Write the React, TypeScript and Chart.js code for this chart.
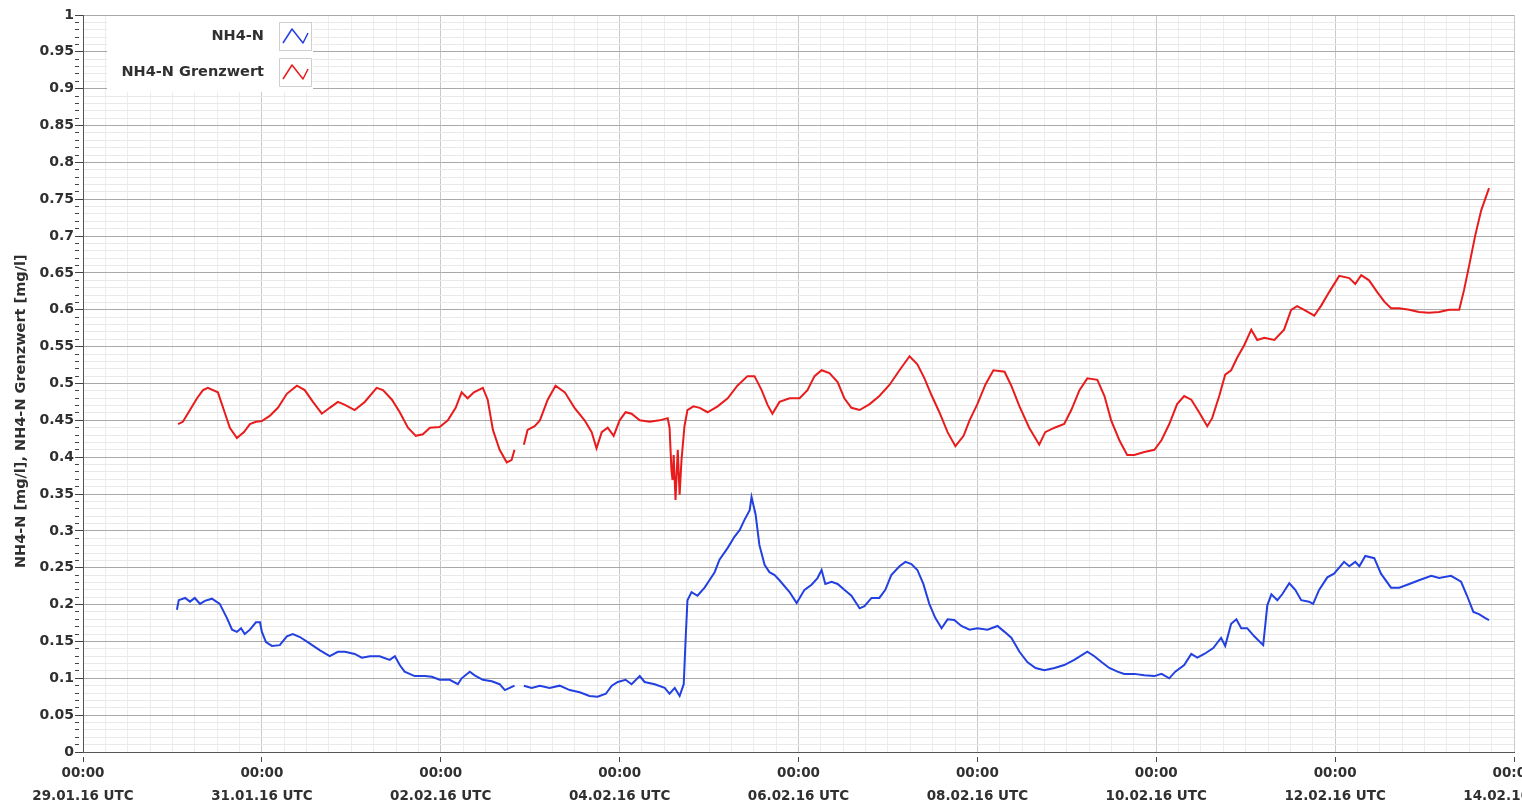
import React, { useEffect, useRef } from "react";
import { Chart, registerables } from "chart.js";

Chart.register(...registerables);

// ---- data (x = hours since 29.01.16 00:00 UTC, y = mg/l) ----
const timeLabel = "00:00";
const dateLabels = [
  "29.01.16 UTC", "31.01.16 UTC", "02.02.16 UTC", "04.02.16 UTC", "06.02.16 UTC",
  "08.02.16 UTC", "10.02.16 UTC", "12.02.16 UTC", "14.02.16 UTC",
];
const seriesNames = ["NH4-N", "NH4-N Grenzwert"];
const seriesColors = ["#2340e0", "#e81c1c"];
const yTitle = "NH4-N [mg/l], NH4-N Grenzwert [mg/l]";

const nh4Hours = [
  25.2, 25.7, 27.4, 28.7, 30.0, 31.4, 32.7, 34.6, 36.7, 38.6, 40.0, 41.3, 42.4, 43.4, 44.8, 46.4, 47.5, 48.0,
  49.1, 50.7, 52.8, 54.7, 56.3, 58.2, 60.3, 63.6, 66.2, 68.4, 70.3, 72.9, 74.8, 77.0, 79.6, 82.3, 83.7, 85.0,
  86.3, 89.0, 91.7, 93.6, 95.7, 98.4, 100.6, 101.6, 103.8, 105.1, 107.3, 109.7, 111.8, 113.2, 114.5, 115.8,
  116.5, 118.3, 120.4, 122.6, 125.2, 127.9, 130.6, 133.3, 135.9, 138.1, 140.3, 141.9, 143.5, 145.6, 147.2,
  149.4, 150.7, 153.4, 156.1, 157.4, 158.8, 160.1, 161.2, 161.7, 162.2, 163.3, 164.9, 166.8, 168.1, 169.5,
  170.8, 173.0, 174.8, 176.2, 177.5, 178.9, 179.4, 180.5, 181.5, 182.9, 184.2, 185.6, 186.9, 189.6, 191.5,
  193.6, 195.5, 197.1, 198.2, 199.2, 200.9, 202.5, 204.3, 206.2, 208.4, 209.7, 211.6, 213.7, 215.3, 216.9,
  219.1, 220.7, 222.3, 223.9, 225.5, 227.1, 228.7, 230.4, 232.0, 233.8, 235.7, 237.9, 240.0, 242.7, 245.4,
  247.3, 249.1, 251.3, 253.4, 255.6, 258.0, 260.7, 263.3, 266.0, 269.5, 271.4, 273.3, 275.4, 277.6, 279.4,
  282.1, 284.8, 287.5, 289.4, 291.5, 293.1, 295.5, 297.4, 299.0, 300.9, 303.3, 305.4, 306.5, 308.1, 309.5,
  310.8, 312.4, 314.3, 316.7, 317.8, 318.9, 320.5, 321.8, 323.7, 325.3, 326.9, 329.0, 330.1, 331.7, 333.9,
  335.7, 338.4, 339.8, 341.4, 342.5, 344.1, 346.5, 348.3, 351.0, 353.2, 355.9, 358.5, 361.8, 363.9, 367.1,
  369.8, 371.4, 373.1, 374.6, 376.2, 377.3,
];
const nh4Values = [
  0.193, 0.206, 0.209, 0.204, 0.209, 0.201, 0.205, 0.208, 0.201, 0.182, 0.166, 0.163, 0.168, 0.160, 0.166, 0.176, 0.176, 0.163,
  0.149, 0.144, 0.145, 0.157, 0.160, 0.156, 0.149, 0.138, 0.130, 0.136, 0.136, 0.133, 0.128, 0.130, 0.130, 0.125, 0.130, 0.118,
  0.109, 0.103, 0.103, 0.102, 0.098, 0.098, 0.092, 0.100, 0.109, 0.104, 0.098, 0.096, 0.092, 0.084, 0.087, 0.090,
  null, 0.090, 0.087, 0.090, 0.087, 0.090, 0.084, 0.081, 0.076, 0.075, 0.079, 0.090, 0.095, 0.098, 0.092,
  0.103, 0.095, 0.092, 0.087, 0.079, 0.087, 0.076, 0.092, 0.152, 0.206, 0.217, 0.212, 0.223, 0.233, 0.244,
  0.261, 0.277, 0.292, 0.301, 0.315, 0.328, 0.346, 0.322, 0.281, 0.254, 0.244, 0.240, 0.233, 0.217, 0.202,
  0.220, 0.227, 0.236, 0.247, 0.228, 0.231, 0.228, 0.220, 0.212, 0.195, 0.198, 0.209, 0.209, 0.220, 0.240,
  0.252, 0.258, 0.255, 0.247, 0.228, 0.201, 0.182, 0.168, 0.180, 0.179, 0.171, 0.166, 0.168, 0.166, 0.171,
  0.163, 0.155, 0.136, 0.122, 0.114, 0.111, 0.114, 0.118, 0.125, 0.136, 0.130, 0.122, 0.114, 0.109, 0.106,
  0.106, 0.104, 0.103, 0.106, 0.100, 0.109, 0.118, 0.133, 0.128, 0.133, 0.141, 0.155, 0.144, 0.174, 0.180,
  0.168, 0.168, 0.157, 0.145, 0.199, 0.214, 0.206, 0.214, 0.229, 0.220, 0.206, 0.204, 0.201, 0.220, 0.237,
  0.242, 0.258, 0.252, 0.258, 0.252, 0.266, 0.263, 0.242, 0.223, 0.223, 0.228, 0.233, 0.239, 0.236, 0.239,
  0.231, 0.212, 0.190, 0.187, 0.182, 0.179,
];

const limitHours = [
  25.5, 26.8, 28.7, 30.6, 32.2, 33.5, 36.2, 37.8, 39.4, 41.3, 43.2, 44.8, 46.4, 48.0, 50.1, 52.3, 54.7, 57.4,
  59.5, 61.7, 64.1, 66.2, 68.4, 70.3, 72.9, 75.6, 78.8, 80.5, 82.9, 85.0, 87.2, 89.3, 91.2, 93.1, 95.7, 97.9,
  100.0, 101.6, 103.2, 104.9, 107.3, 108.6, 110.0, 111.8, 113.7, 115.0, 115.8, 116.5, 118.3, 119.3, 121.2,
  122.6, 124.7, 126.8, 129.3, 131.9, 134.6, 136.5, 137.8, 139.2, 140.8, 142.4, 144.0, 145.6, 147.2, 149.4,
  152.1, 154.7, 156.9, 157.4, 157.9, 158.2, 158.5, 159.0, 159.6, 160.1, 160.6, 161.4, 162.2, 163.8, 165.5,
  167.6, 170.3, 173.0, 175.6, 178.3, 180.2, 182.1, 183.7, 185.0, 186.9, 189.6, 192.3, 194.4, 196.3, 198.2,
  200.3, 202.5, 204.3, 206.2, 208.4, 211.1, 213.7, 216.4, 219.1, 221.8, 223.9, 225.8, 227.7, 229.8, 232.0,
  234.1, 236.3, 237.9, 240.0, 242.2, 244.3, 247.3, 249.1, 251.3, 253.9, 256.6, 258.2, 260.7, 263.3, 265.2,
  267.4, 269.5, 272.2, 274.1, 275.9, 278.1, 280.2, 282.1, 284.8, 287.5, 289.4, 291.5, 293.6, 295.5, 297.4,
  299.5, 301.7, 303.0, 304.9, 306.5, 308.1, 309.7, 311.6, 313.5, 315.1, 317.0, 319.7, 322.3, 324.2, 325.8,
  327.7, 330.4, 332.3, 334.4, 337.1, 339.8, 341.4, 343.0, 345.1, 347.3, 349.2, 351.0, 353.2, 355.9, 358.5,
  361.2, 363.9, 366.6, 369.3, 370.6, 372.0, 373.6, 375.2, 377.3,
];
const limitValues = [
  0.445, 0.448, 0.464, 0.480, 0.491, 0.494, 0.488, 0.464, 0.440, 0.426, 0.434, 0.445, 0.448, 0.449, 0.456, 0.467, 0.486, 0.497,
  0.491, 0.475, 0.459, 0.467, 0.475, 0.471, 0.464, 0.475, 0.494, 0.491, 0.478, 0.461, 0.440, 0.429, 0.431, 0.440, 0.441, 0.450,
  0.467, 0.488, 0.480, 0.488, 0.494, 0.478, 0.437, 0.410, 0.393, 0.396, 0.410, null, 0.417, 0.437, 0.442,
  0.450, 0.478, 0.497, 0.488, 0.467, 0.450, 0.434, 0.412, 0.434, 0.440, 0.429, 0.450, 0.461, 0.459, 0.450,
  0.448, 0.450, 0.453, 0.440, 0.383, 0.369, 0.403, 0.342, 0.410, 0.349, 0.396, 0.442, 0.464, 0.469, 0.467,
  0.461, 0.469, 0.480, 0.497, 0.510, 0.510, 0.491, 0.471, 0.459, 0.475, 0.480, 0.480, 0.491, 0.510, 0.518,
  0.514, 0.502, 0.480, 0.467, 0.464, 0.472, 0.483, 0.498, 0.518, 0.537, 0.526, 0.507, 0.484, 0.461, 0.434,
  0.415, 0.429, 0.450, 0.472, 0.499, 0.518, 0.516, 0.497, 0.469, 0.440, 0.417, 0.434, 0.440, 0.445, 0.464,
  0.491, 0.507, 0.505, 0.483, 0.450, 0.423, 0.403, 0.403, 0.407, 0.410, 0.423, 0.445, 0.472, 0.483, 0.478,
  0.461, 0.442, 0.453, 0.483, 0.512, 0.518, 0.535, 0.552, 0.573, 0.559, 0.562, 0.559, 0.573, 0.600, 0.605,
  0.600, 0.592, 0.606, 0.624, 0.646, 0.643, 0.635, 0.647, 0.640, 0.624, 0.611, 0.602, 0.602, 0.600, 0.597,
  0.596, 0.597, 0.600, 0.600, 0.627, 0.661, 0.701, 0.735, 0.765,
];

const FONT = '"DejaVu Sans", sans-serif';
const TEXT = "#303030";

const isMajorY = (v: number) => Math.round(v * 100) % 5 === 0;
const isMajorX = (v: number) => Math.round(v) % 48 === 0;

const innerLegend = {
  id: "innerLegend",
  beforeDatasetsDraw(chart: any) {
    const { ctx, chartArea } = chart;
    const left = chartArea.left;
    const top = chartArea.top;
    ctx.save();
    ctx.fillStyle = "#ffffff";
    ctx.fillRect(left + 24, top + 1, 206, 76);
    chart.data.datasets.forEach((ds: any, i: number) => {
      const cy = top + 21 + i * 36;
      ctx.font = `bold 14.5px ${FONT}`;
      ctx.fillStyle = TEXT;
      ctx.textAlign = "right";
      ctx.textBaseline = "middle";
      ctx.fillText(ds.label, left + 181, cy);
      const bx = left + 196;
      const by = cy - 14;
      ctx.strokeStyle = "#cfcfcf";
      ctx.lineWidth = 1;
      ctx.strokeRect(bx + 0.5, by + 0.5, 32, 28);
      ctx.strokeStyle = ds.borderColor;
      ctx.lineWidth = 1.5;
      ctx.lineJoin = "round";
      ctx.beginPath();
      ctx.moveTo(bx + 4, by + 21);
      ctx.lineTo(bx + 13, by + 7);
      ctx.lineTo(bx + 24, by + 21);
      ctx.lineTo(bx + 29, by + 11);
      ctx.stroke();
    });
    ctx.restore();
  },
};

export default function App() {
  const canvasRef = useRef<HTMLCanvasElement | null>(null);

  useEffect(() => {
    if (!canvasRef.current) return;
    const toPoints = (hs: number[], vs: (number | null)[]) => hs.map((h, i) => ({ x: h, y: vs[i] }));
    const chart = new Chart(canvasRef.current, {
      type: "line",
      data: {
        datasets: [
          {
            label: seriesNames[0],
            data: toPoints(nh4Hours, nh4Values) as any,
            borderColor: seriesColors[0],
            backgroundColor: seriesColors[0],
            borderWidth: 2,
            pointRadius: 0,
            tension: 0,
            spanGaps: false,
          },
          {
            label: seriesNames[1],
            data: toPoints(limitHours, limitValues) as any,
            borderColor: seriesColors[1],
            backgroundColor: seriesColors[1],
            borderWidth: 2,
            pointRadius: 0,
            tension: 0,
            spanGaps: false,
          },
        ],
      },
      options: {
        animation: false,
        responsive: true,
        maintainAspectRatio: false,
        layout: { padding: { top: 15, right: 8, left: 0, bottom: 0 } },
        plugins: { legend: { display: false }, tooltip: { enabled: false } },
        scales: {
          x: {
            type: "linear",
            min: 0,
            max: 384,
            ticks: {
              stepSize: 6,
              autoSkip: false,
              maxRotation: 0,
              minRotation: 0,
              padding: 0,
              color: TEXT,
              font: { family: FONT, size: 13.5, weight: "bold", lineHeight: 1.7 },
              callback: (v: any) => {
                const h = Math.round(Number(v));
                if (h % 48 !== 0) return "";
                return [timeLabel, dateLabels[h / 48]];
              },
            },
            grid: {
              color: (c: any) => (c.tick && isMajorX(c.tick.value) ? "#c9c9c9" : "#ededed"),
              lineWidth: 1,
              tickLength: 10,
              tickColor: (c: any) => (c.tick && isMajorX(c.tick.value) ? "#444444" : "rgba(0,0,0,0)"),
              tickBorderDash: () => [0, 4, 6, 100],
            },
            border: { display: true, color: "#555555", width: 1 },
            afterFit: (s: any) => {
              s.paddingLeft = 0;
              s.paddingRight = 0;
              s.height = 54;
            },
          },
          y: {
            type: "linear",
            min: 0,
            max: 1,
            ticks: {
              stepSize: 0.01,
              autoSkip: false,
              padding: 1,
              color: TEXT,
              font: { family: FONT, size: 14, weight: "bold" },
              callback: (v: any) => {
                const n = Number(v);
                if (!isMajorY(n)) return "";
                return String(Math.round(n * 100) / 100);
              },
            },
            grid: {
              color: (c: any) => (c.tick && isMajorY(c.tick.value) ? "#a9a9a9" : "#e9e9e9"),
              lineWidth: 1,
              tickLength: 8,
              tickColor: "#444444",
              tickBorderDash: (c: any) => (c.tick && isMajorY(c.tick.value) ? [] : [4, 100]),
            },
            border: { display: true, color: "#555555", width: 1 },
            title: {
              display: true,
              text: yTitle + "           ",
              color: TEXT,
              font: { family: FONT, size: 14.5, weight: "bold" },
              padding: { top: 13, bottom: 0 },
            },
            afterFit: (s: any) => {
              s.paddingTop = 0;
              s.paddingBottom = 0;
              s.width = 83;
            },
          },
        },
      } as any,
      plugins: [innerLegend],
    });
    return () => chart.destroy();
  }, []);

  return (
    <div style={{ position: "absolute", left: 0, top: 0, width: 1522, height: 806, background: "#fff" }}>
      <canvas ref={canvasRef} />
    </div>
  );
}
